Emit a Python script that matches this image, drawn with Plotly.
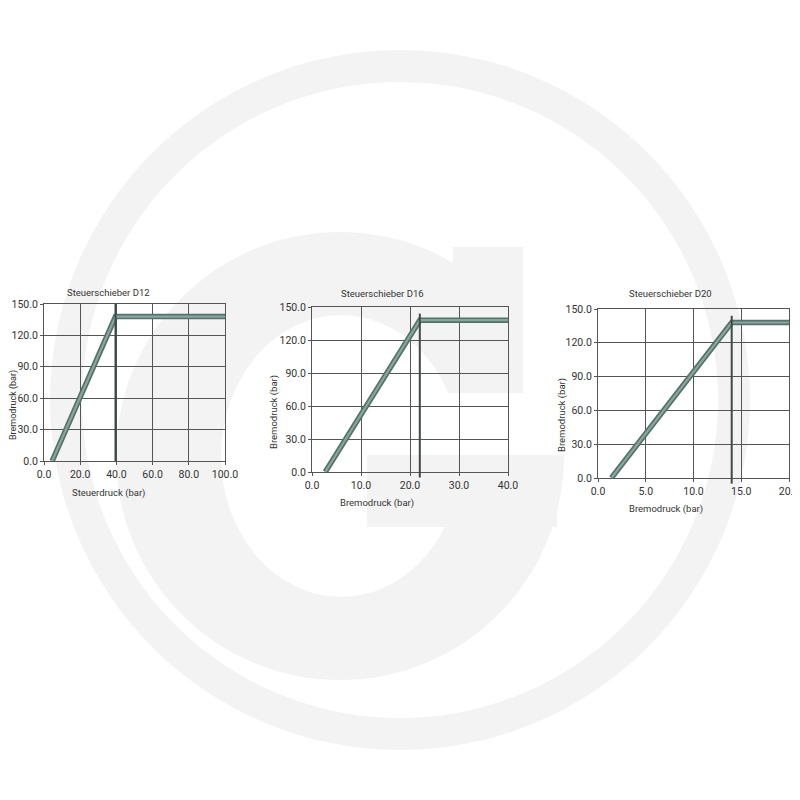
import plotly.graph_objects as go

# ---------------- data ----------------
titles = ["Steuerschieber D12", "Steuerschieber D16", "Steuerschieber D20"]
x_titles = ["Steuerdruck (bar)", "Bremodruck (bar)", "Bremodruck (bar)"]
y_title = "Bremodruck (bar)"

d12_x = [4.5, 39.5, 100.0]
d12_y = [0.0, 138.0, 138.0]
d16_x = [2.7, 22.0, 40.0]
d16_y = [0.0, 138.0, 138.0]
d20_x = [1.4, 14.0, 20.0]
d20_y = [0.0, 138.0, 138.0]

marker_x = [39.5, 22.0, 14.0]       # vertical switch-point lines
x_max = [100.0, 40.0, 20.0]
x_dtick = [20.0, 10.0, 5.0]
y_max = 150.0
y_dtick = 30.0

# ---------------- layout helpers ----------------
OFF = 8          # page body margin
W = H = 792
def px(x): return (x - OFF) / W
def py(y): return 1 - (y - OFF) / H

FONT = "Roboto, Liberation Sans, sans-serif"
GRID = "#555555"
TXT = "#333333"
BAND_DARK = "#56706a"
BAND_LIGHT = "#86a69e"
WM = "#f3f3f3"

# pixel boxes of plot areas (screen pixels): (left, right, top, bottom)
boxes = [(44, 225, 304, 461), (312, 508, 307, 472), (598, 789, 309, 478)]
title_pos = [(109, 292), (382, 293), (670, 293)]
xtitle_pos = [(109, 493), (377, 503), (666, 509)]
ytitle_pos = [(13, 405), (274, 412), (562, 415)]
ytitle_size = [9, 9.5, 9.5]

series = [(d12_x, d12_y), (d16_x, d16_y), (d20_x, d20_y)]

fig = go.Figure()
layout = dict(
    width=W, height=H,
    autosize=False,
    margin=dict(l=0, r=0, t=0, b=0, pad=0),
    paper_bgcolor="white",
    plot_bgcolor="rgba(0,0,0,0)",
    showlegend=False,
    font=dict(family=FONT, size=10, color=TXT),
)

shapes = []
# ---- watermark (ring + G), drawn below everything ----
def circ(cx, cy, rx, ry, color):
    return dict(type="circle", xref="paper", yref="paper", layer="below",
                x0=px(cx - rx), x1=px(cx + rx), y0=py(cy + ry), y1=py(cy - ry),
                fillcolor=color, line=dict(width=0))
def rect(x0, y0, x1, y1, color):
    return dict(type="rect", xref="paper", yref="paper", layer="below",
                x0=px(x0), x1=px(x1), y0=py(y1), y1=py(y0),
                fillcolor=color, line=dict(width=0))

shapes += [
    circ(400, 400, 350, 350, WM),
    circ(400, 400, 318, 318, "white"),
    circ(340, 456, 224, 224, WM),
    circ(341, 456, 120, 141, "white"),
    rect(523, 220, 590, 455, "white"),
    rect(446, 393, 590, 455, "white"),
    rect(453, 247, 523, 393, WM),
    rect(367, 455, 557, 527, WM),
]

annotations = []
for i, (xs, ys) in enumerate(series):
    n = "" if i == 0 else str(i + 1)
    l, r, t, b = boxes[i]
    common = dict(
        showgrid=True, gridcolor=GRID, gridwidth=1,
        showline=True, linecolor=GRID, linewidth=1, mirror=True,
        zeroline=False, ticks="outside", ticklen=3, tickcolor=GRID,
        tickfont=dict(family=FONT, size=10.5, color=TXT),
        fixedrange=True, automargin=False, tick0=0, tickformat=".1f",
    )
    layout["xaxis" + n] = dict(domain=[px(l), px(r)], anchor="y" + n,
                               range=[0, x_max[i]], dtick=x_dtick[i], **common)
    layout["yaxis" + n] = dict(domain=[py(b), py(t)], anchor="x" + n,
                               range=[0, y_max], dtick=y_dtick, **common)
    # thick band: dark outline + light core
    fig.add_trace(go.Scatter(x=xs, y=ys, mode="lines", xaxis="x" + n, yaxis="y" + n,
                             line=dict(color=BAND_DARK, width=5.5), hoverinfo="skip"))
    fig.add_trace(go.Scatter(x=xs, y=ys, mode="lines", xaxis="x" + n, yaxis="y" + n,
                             line=dict(color=BAND_LIGHT, width=2.2), hoverinfo="skip"))
    # vertical marker line at switch point
    y0d = 0.0 if i == 0 else -5 / y_max
    y1d = 1.0 if i == 0 else 144 / y_max
    shapes.append(dict(type="line", xref="x" + n, yref="y" + n + " domain",
                       x0=marker_x[i], x1=marker_x[i], y0=y0d, y1=y1d,
                       line=dict(color="#3f4a47", width=2), layer="above"))
    # texts
    annotations.append(dict(text=titles[i], xref="paper", yref="paper",
                            x=px(title_pos[i][0]), y=py(title_pos[i][1]),
                            xanchor="center", yanchor="middle", showarrow=False,
                            font=dict(family=FONT, size=9.5, color=TXT)))
    annotations.append(dict(text=x_titles[i], xref="paper", yref="paper",
                            x=px(xtitle_pos[i][0]), y=py(xtitle_pos[i][1]),
                            xanchor="center", yanchor="middle", showarrow=False,
                            font=dict(family=FONT, size=9.5, color=TXT)))
    annotations.append(dict(text=y_title, xref="paper", yref="paper",
                            x=px(ytitle_pos[i][0]), y=py(ytitle_pos[i][1]),
                            xanchor="center", yanchor="middle", showarrow=False,
                            textangle=-90,
                            font=dict(family=FONT, size=ytitle_size[i], color=TXT)))

layout["shapes"] = shapes
layout["annotations"] = annotations
fig.update_layout(**layout)
fig.write_html("out.html")
